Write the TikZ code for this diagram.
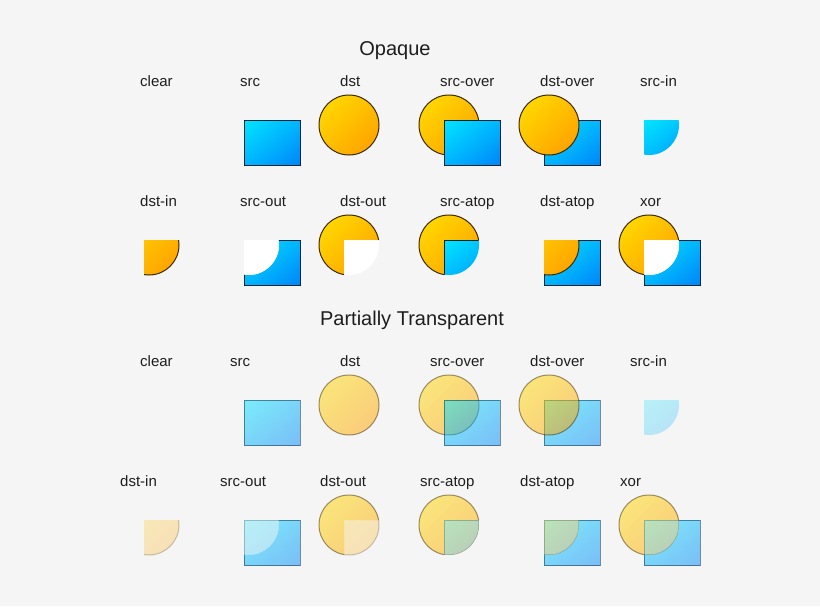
\documentclass[tikz,border=0pt]{standalone}
\usepackage{fontspec}
\setmainfont{Liberation Sans}
\usetikzlibrary{shadings}
\definecolor{bg}{HTML}{F5F5F5}
\definecolor{cY}{HTML}{FFE000}
\definecolor{cM}{HTML}{FFBE00}
\definecolor{cO}{HTML}{FF9A00}
\definecolor{cL}{HTML}{3A2A08}
\definecolor{sC}{HTML}{00E6FF}
\definecolor{sM}{HTML}{00B6FF}
\definecolor{sB}{HTML}{0086F8}
\definecolor{sL}{HTML}{0C2438}
\definecolor{txt}{HTML}{1E1E1E}
\tikzset{
  circS/.style={upper left=cY, upper right=cM, lower left=cM, lower right=cO},
  sqS/.style={upper left=sC, upper right=sM, lower left=sM, lower right=sB},
  circD/.style={circS, draw=cL, line width=1},
  sqD/.style={sqS, draw=sL, line width=1},
  lbl/.style={anchor=base west, inner sep=0, font=\fontsize{15}{18}\selectfont, text=txt},
  ttl/.style={anchor=base, inner sep=0, font=\fontsize{20}{24}\selectfont, text=txt},
}
\newcommand\pdC[3][]{\shade[circD,#1] (#2,#3) circle[radius=30];}
\newcommand\pdS[3][]{\shade[sqD,#1] ({#2-5},{#3-5}) rectangle ({#2+51},{#3+40});}
\newcommand\inC[2]{\clip (#1,#2) circle[radius=30];}
\newcommand\inS[2]{\clip ({#1-5},{#2-5}) rectangle ({#1+51},{#2+40});}
\newcommand\outC[2]{\clip (0,0) rectangle (820,606) (#1,#2) circle[radius=30];}
\newcommand\outS[2]{\clip (0,0) rectangle (820,606) ({#1-5},{#2-5}) rectangle ({#1+51},{#2+40});}
\newcommand\whiteSq[2]{\fill[white] ({#1-5},{#2-5}) rectangle ({#1+51},{#2+40});}
\newcommand\whiteC[2]{\fill[white] (#1,#2) circle[radius=30];}
\begin{document}
\begin{tikzpicture}[x=1pt,y=-1pt]
\fill[bg] (0,0) rectangle (820,606);
\useasboundingbox (0,0) rectangle (820,606);

% titles
\node[ttl] (t-opaque) at (395,55) {Opaque};
\node[ttl] (t-trans) at (412,325) {Partially Transparent};

% ---------- Opaque row 1 (y=125)
\node[lbl] (a-clear) at (140,86) {clear};
\node[lbl] (a-src) at (240,86) {src};
\node[lbl] (a-dst) at (340,86) {dst};
\node[lbl] (a-srcover) at (440,86) {src-over};
\node[lbl] (a-dstover) at (540,86) {dst-over};
\node[lbl] (a-srcin) at (640,86) {src-in};

\pdS{249}{125}
\pdC{349}{125}
\pdC{449}{125}\pdS{449}{125}
\pdS{549}{125}\pdC{549}{125}
\begin{scope}\inC{649}{125}\pdS[draw=none]{649}{125}\end{scope}

% ---------- Opaque row 2 (y=245)
\node[lbl] (b-dstin) at (140,206) {dst-in};
\node[lbl] (b-srcout) at (240,206) {src-out};
\node[lbl] (b-dstout) at (340,206) {dst-out};
\node[lbl] (b-srcatop) at (440,206) {src-atop};
\node[lbl] (b-dstatop) at (540,206) {dst-atop};
\node[lbl] (b-xor) at (640,206) {xor};

\begin{scope}\inS{149}{245}\pdC{149}{245}\end{scope}
\begin{scope}[even odd rule]\outC{249}{245}\pdS{249}{245}\end{scope}
\begin{scope}\inC{249}{245}\whiteSq{249}{245}\end{scope}
\begin{scope}[even odd rule]\outS{349}{245}\pdC{349}{245}\end{scope}
\begin{scope}\inS{349}{245}\whiteC{349}{245}\end{scope}
\begin{scope}[even odd rule]\outS{449}{245}\pdC{449}{245}\end{scope}
\begin{scope}\inC{449}{245}\pdS{449}{245}\end{scope}
\begin{scope}[even odd rule]\outC{549}{245}\pdS{549}{245}\end{scope}
\begin{scope}\inS{549}{245}\pdC{549}{245}\end{scope}
\begin{scope}[even odd rule]\outS{649}{245}\pdC{649}{245}\end{scope}
\begin{scope}[even odd rule]\outC{649}{245}\pdS{649}{245}\end{scope}
\begin{scope}\inC{649}{245}\whiteSq{649}{245}\end{scope}

% ---------- Transparent row 3 (y=405)
\node[lbl] (c-clear) at (140,366) {clear};
\node[lbl] (c-src) at (230,366) {src};
\node[lbl] (c-dst) at (340,366) {dst};
\node[lbl] (c-srcover) at (430,366) {src-over};
\node[lbl] (c-dstover) at (530,366) {dst-over};
\node[lbl] (c-srcin) at (630,366) {src-in};

\pdS[opacity=.5]{249}{405}
\pdC[opacity=.5]{349}{405}
\pdC[opacity=.5]{449}{405}\pdS[opacity=.5]{449}{405}
\pdS[opacity=.5]{549}{405}\pdC[opacity=.5]{549}{405}
\begin{scope}\inC{649}{405}\pdS[draw=none,opacity=.25]{649}{405}\end{scope}

% ---------- Transparent row 4 (y=525)
\node[lbl] (d-dstin) at (120,486) {dst-in};
\node[lbl] (d-srcout) at (220,486) {src-out};
\node[lbl] (d-dstout) at (320,486) {dst-out};
\node[lbl] (d-srcatop) at (420,486) {src-atop};
\node[lbl] (d-dstatop) at (520,486) {dst-atop};
\node[lbl] (d-xor) at (620,486) {xor};

\begin{scope}\inS{149}{525}\pdC[opacity=.25]{149}{525}\end{scope}
\begin{scope}[even odd rule]\outC{249}{525}\pdS[opacity=.5]{249}{525}\end{scope}
\begin{scope}\inC{249}{525}\pdS[opacity=.25]{249}{525}\end{scope}
\begin{scope}[even odd rule]\outS{349}{525}\pdC[opacity=.5]{349}{525}\end{scope}
\begin{scope}\inS{349}{525}\pdC[opacity=.25]{349}{525}\end{scope}
\begin{scope}[even odd rule]\outS{449}{525}\pdC[opacity=.5]{449}{525}\end{scope}
\begin{scope}\inC{449}{525}\inS{449}{525}\pdC[opacity=.333]{449}{525}\pdS[opacity=.25]{449}{525}\end{scope}
\begin{scope}[even odd rule]\outC{549}{525}\pdS[opacity=.5]{549}{525}\end{scope}
\begin{scope}\inC{549}{525}\inS{549}{525}\pdS[opacity=.333]{549}{525}\pdC[opacity=.25]{549}{525}\end{scope}
\begin{scope}[even odd rule]\outS{649}{525}\pdC[opacity=.5]{649}{525}\end{scope}
\begin{scope}[even odd rule]\outC{649}{525}\pdS[opacity=.5]{649}{525}\end{scope}
\begin{scope}\inC{649}{525}\inS{649}{525}\pdC[opacity=.333]{649}{525}\pdS[opacity=.25]{649}{525}\end{scope}
\end{tikzpicture}
\end{document}
